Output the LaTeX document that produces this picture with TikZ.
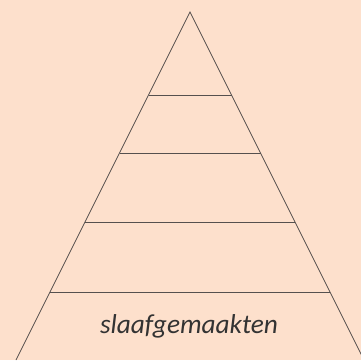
\documentclass[tikz,border=0pt]{standalone}
\usepackage{fontspec}
\setmainfont{Carlito}
\definecolor{peach}{RGB}{253,224,204}
\definecolor{linegray}{RGB}{85,80,78}
\begin{document}
\begin{tikzpicture} [x = 1pt, y = -1pt]
	\fill [peach] (0,0) rectangle (361,360);
	\useasboundingbox (0,0) rectangle (361,360);
	\scope
	\clip (0,0) rectangle (361,360);
	\draw [linegray, thick] (16,360) -- (190,12) -- (364,360);
	\endscope
	\draw [linegray, thick] (148.5,95) -- (231.5,95);
	\draw [linegray, thick] (119.5,153) -- (260.5,153);
	\draw [linegray, thick] (85,222) -- (295,222);
	\draw [linegray, thick] (50,292) -- (330,292);
	\node [text = black!80, font = \fontsize{27.3}{32}\selectfont\itshape] (base) at (189,326) {slaafgemaakten};
\end{tikzpicture}
\end{document}
